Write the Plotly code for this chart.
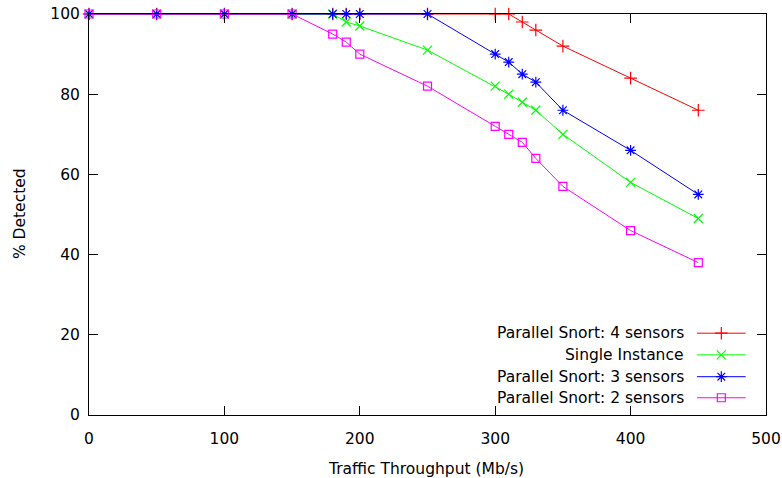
import plotly.graph_objects as go

x_vals = [0, 50, 100, 150, 180, 190, 200, 250, 300, 310, 320, 330, 350, 400, 450]
snort4 = [100, 100, 100, 100, 100, 100, 100, 100, 100, 100, 98, 96, 92, 84, 76]
single = [100, 100, 100, 100, 100, 98, 97, 91, 82, 80, 78, 76, 70, 58, 49]
snort3 = [100, 100, 100, 100, 100, 100, 100, 100, 90, 88, 85, 83, 76, 66, 55]
snort2 = [100, 100, 100, 100, 95, 93, 90, 82, 72, 70, 68, 64, 57, 46, 38]

series_names = ["Parallel Snort: 4 sensors", "Single Instance",
                "Parallel Snort: 3 sensors", "Parallel Snort: 2 sensors"]
series_vals = [snort4, single, snort3, snort2]
colors = ["#ff0000", "#00ff00", "#0000ff", "#ff00ff"]
symbols = ["cross-thin-open", "x-thin-open", "asterisk-open", "square-open"]
sizes = [9, 9, 9, 8]

FONT = "DejaVu Sans"
FS = 15.5

fig = go.Figure()
for name, vals, c, s, sz in zip(series_names, series_vals, colors, symbols, sizes):
    fig.add_trace(go.Scatter(
        x=x_vals, y=vals, name=name, mode="lines+markers",
        line=dict(color=c, width=1),
        marker=dict(symbol=s, size=sz, color=c, line=dict(color=c, width=1.2)),
        showlegend=False, cliponaxis=False,
    ))

# custom gnuplot-style legend (text right, sample on the right)
leg_y = [0.204, 0.150, 0.0955, 0.043]
for name, c, s, sz, yy in zip(series_names, colors, symbols, sizes, leg_y):
    fig.add_trace(go.Scatter(
        x=[0.898, 0.970], y=[yy, yy], xaxis="x2", yaxis="y2", mode="lines",
        line=dict(color=c, width=1), showlegend=False, hoverinfo="skip"))
    fig.add_trace(go.Scatter(
        x=[0.934], y=[yy], xaxis="x2", yaxis="y2", mode="markers",
        marker=dict(symbol=s, size=sz, color=c, line=dict(color=c, width=1.2)),
        showlegend=False, hoverinfo="skip"))
    fig.add_annotation(x=0.882, y=yy, xref="paper", yref="paper", text=name,
                       showarrow=False, xanchor="right", yanchor="middle",
                       font=dict(family=FONT, size=FS, color="#000000"))

# axis titles
fig.add_annotation(x=0.498, y=-0.1347, xref="paper", yref="paper",
                   text="Traffic Throughput (Mb/s)", showarrow=False,
                   xanchor="center", yanchor="middle",
                   font=dict(family=FONT, size=FS, color="#000000"))
fig.add_annotation(x=-0.1019, y=0.501, xref="paper", yref="paper",
                   text="% Detected", showarrow=False, textangle=-90,
                   xanchor="center", yanchor="middle",
                   font=dict(family=FONT, size=FS, color="#000000"))

fig.update_layout(
    width=782, height=478,
    margin=dict(l=89, r=16, t=14, b=63, autoexpand=False),
    paper_bgcolor="white", plot_bgcolor="white",
    font=dict(family=FONT, size=FS, color="#000000"),
    showlegend=False,
    xaxis=dict(range=[0, 500], tickvals=[0, 100, 200, 300, 400, 500],
               ticks="inside", ticklen=9, tickcolor="black", tickwidth=1,
               showline=True, linecolor="black", linewidth=1, mirror="ticks",
               showgrid=False, zeroline=False, automargin=False,
               ticklabelstandoff=9,
               tickfont=dict(family=FONT, size=FS)),
    yaxis=dict(range=[0, 100], tickvals=[0, 20, 40, 60, 80, 100],
               ticks="inside", ticklen=9, tickcolor="black", tickwidth=1,
               showline=True, linecolor="black", linewidth=1, mirror="ticks",
               showgrid=False, zeroline=False, automargin=False,
               ticklabelstandoff=5,
               tickfont=dict(family=FONT, size=FS)),
    xaxis2=dict(range=[0, 1], overlaying="x", visible=False, fixedrange=True),
    yaxis2=dict(range=[0, 1], overlaying="y", visible=False, fixedrange=True),
)

fig.write_html("out.html",
               config={"displayModeBar": False},
               post_script="document.body.style.margin='0';document.body.style.overflow='hidden';")
